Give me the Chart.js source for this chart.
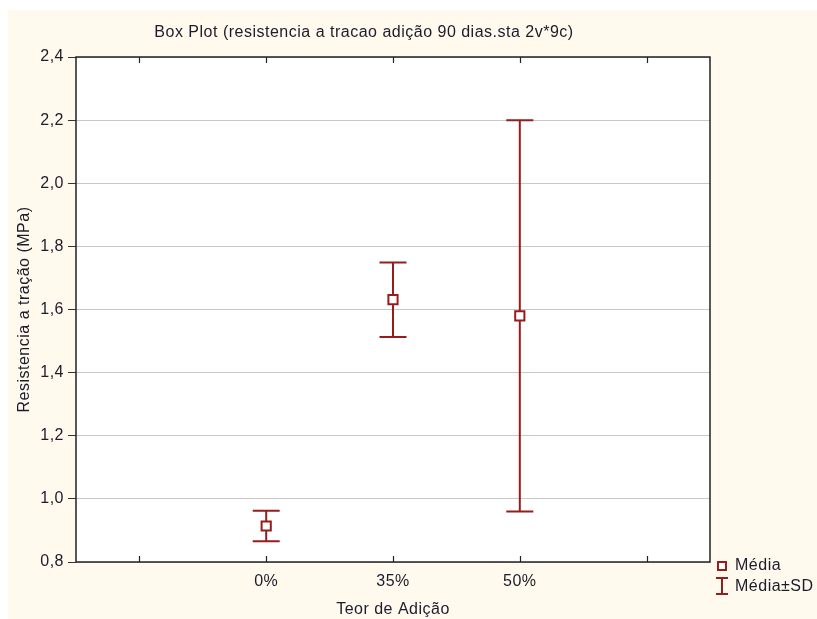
<!DOCTYPE html>
<html>
<head>
<meta charset="utf-8">
<script src="https://cdn.jsdelivr.net/npm/chart.js@4.4.0/dist/chart.umd.min.js"></script>
<style>
    html, body { margin: 0; padding: 0; background: #fff; }
    canvas { display: block; }
</style>
</head>
<body>
<canvas id="myChart" width="817" height="619"></canvas>
<script>
// data
const categories = ['0%', '35%', '50%'];
const means = [0.914, 1.631, 1.580];
const sds = [0.048, 0.118, 0.620];
const yMin = 0.8, yMax = 2.4, yStep = 0.2;
const legendLabels = ['Média', 'Média±SD'];
const titleText = 'Box Plot (resistencia a tracao adição 90 dias.sta 2v*9c)';

const RED = '#971d1d';
const TEXT = '#1c1c2a';
const FONT = 'Liberation Sans, Arial, sans-serif';
const SIZE = 16;

// background: white margin, cream page, white plot area
const paper = {
    id: 'paper',
    beforeDraw(chart) {
        const { ctx, chartArea: a } = chart;
        ctx.letterSpacing = '0.5px'; // the original text is set a bit wider
        ctx.save();
        ctx.fillStyle = '#fff';
        ctx.fillRect(0, 0, chart.width, chart.height);
        ctx.fillStyle = '#fff9ee';
        ctx.fillRect(8, 10, chart.width - 8, chart.height - 10);
        ctx.fillStyle = '#fff';
        ctx.fillRect(a.left, a.top, a.right - a.left, a.bottom - a.top);
        ctx.restore();
    }
};

// mean ± SD whiskers, drawn under the mean markers
const whiskers = {
    id: 'whiskers',
    beforeDatasetsDraw(chart) {
        const { ctx, scales: { x, y } } = chart;
        ctx.save();
        ctx.strokeStyle = RED;
        ctx.lineWidth = 2;
        means.forEach((m, i) => {
            const px = x.getPixelForValue(i + 1);
            const hi = y.getPixelForValue(m + sds[i]);
            const lo = y.getPixelForValue(m - sds[i]);
            ctx.beginPath();
            ctx.moveTo(px, hi); ctx.lineTo(px, lo);
            ctx.moveTo(px - 13.5, hi); ctx.lineTo(px + 13.5, hi);
            ctx.moveTo(px - 13.5, lo); ctx.lineTo(px + 13.5, lo);
            ctx.stroke();
        });
        ctx.restore();
    }
};

// frame, inward x ticks, title and legend
const decor = {
    id: 'decor',
    afterDraw(chart) {
        const { ctx, chartArea: a, scales: { x } } = chart;
        ctx.save();
        ctx.strokeStyle = '#222';
        ctx.lineWidth = 1.5;
        ctx.strokeRect(a.left, a.top, a.right - a.left, a.bottom - a.top);

        ctx.lineWidth = 1.2;
        ctx.beginPath();
        x.ticks.forEach(t => {
            const px = Math.round(x.getPixelForValue(t.value)) + 0.5;
            ctx.moveTo(px, a.bottom); ctx.lineTo(px, a.bottom - 6);
            ctx.moveTo(px, a.top); ctx.lineTo(px, a.top + 6);
        });
        ctx.stroke();

        ctx.fillStyle = TEXT;
        ctx.font = SIZE + 'px ' + FONT;
        ctx.textAlign = 'center';
        ctx.textBaseline = 'middle';
        ctx.fillText(titleText, 364, 33);

        // legend
        ctx.textAlign = 'left';
        ctx.fillText(legendLabels[0], 735, 566);
        ctx.fillText(legendLabels[1], 735, 587);

        ctx.strokeStyle = RED;
        ctx.lineWidth = 2;
        ctx.fillStyle = '#fff';
        ctx.fillRect(718, 562, 8, 8);
        ctx.strokeRect(718, 562, 8, 8);
        ctx.beginPath();
        ctx.moveTo(722, 578); ctx.lineTo(722, 594);
        ctx.moveTo(716, 578); ctx.lineTo(728, 578);
        ctx.moveTo(716, 594); ctx.lineTo(728, 594);
        ctx.stroke();
        ctx.restore();
    }
};

new Chart('myChart', {
    type: 'scatter',
    data: {
        datasets: [{
            label: legendLabels[0],
            data: means.map((m, i) => ({ x: i + 1, y: m })),
            pointStyle: 'rect',
            pointRadius: 6.5,
            pointHoverRadius: 6.5,
            pointBorderWidth: 2,
            borderColor: RED,
            backgroundColor: '#fff'
        }]
    },
    options: {
        responsive: false,
        animation: false,
        events: [],
        layout: {
            padding: { left: 8, top: 57, right: 107, bottom: 0 }
        },
        plugins: {
            legend: { display: false },
            title: { display: false },
            tooltip: { enabled: false }
        },
        scales: {
            x: {
                type: 'linear',
                min: -0.5,
                max: categories.length + 1.5,
                // one tick per slot: empty slot, the categories, empty slot
                afterBuildTicks: s => {
                    s.ticks = [0, ...categories.map((c, i) => i + 1), categories.length + 1]
                        .map(v => ({ value: v }));
                },
                afterFit: s => { s.height = 57; },
                border: { display: false },
                grid: { display: false, drawTicks: false },
                ticks: {
                    padding: 10,
                    autoSkip: false,
                    maxRotation: 0,
                    color: TEXT,
                    font: { family: FONT, size: SIZE },
                    callback: v => categories[v - 1] || ''
                },
                title: {
                    display: true,
                    text: 'Teor de Adição',
                    color: TEXT,
                    font: { family: FONT, size: SIZE },
                    padding: { top: 0, bottom: 0 }
                }
            },
            y: {
                min: yMin,
                max: yMax,
                afterFit: s => { s.width = 68; },
                border: { display: false },
                grid: {
                    color: '#c8c8c8',
                    lineWidth: 1,
                    tickColor: '#333',
                    tickLength: 8
                },
                ticks: {
                    stepSize: yStep,
                    padding: 4,
                    color: TEXT,
                    font: { family: FONT, size: SIZE },
                    callback: v => v.toFixed(1).replace('.', ',')
                },
                title: {
                    display: true,
                    text: 'Resistencia a tração (MPa)',
                    color: TEXT,
                    font: { family: FONT, size: SIZE },
                    padding: { top: 7, bottom: 0 }
                }
            }
        }
    },
    plugins: [paper, whiskers, decor]
});
</script>
</body>
</html>
